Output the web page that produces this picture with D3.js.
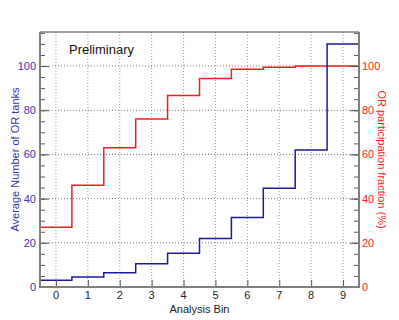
<!DOCTYPE html>
<html>
<head>
<meta charset="utf-8">
<script src="https://cdn.jsdelivr.net/npm/d3@7"></script>
<style>
  body { margin: 0; background: #fff; }
  svg { display: block; font-family: "Liberation Sans", Arial, sans-serif; }
</style>
</head>
<body>
<div id="chart"></div>
<script>
// Analysis bins and per-bin values
const bins = [0, 1, 2, 3, 4, 5, 6, 7, 8, 9];
const avgTanks = [3, 4.5, 6.5, 10.5, 15.3, 22, 31.5, 44.7, 62, 110];
const participation = [27, 46, 63, 76, 86.7, 94.4, 98.5, 99.5, 100, 100];
const yTicks = [0, 20, 40, 60, 80, 100];

const width = 399, height = 320;
const margin = { top: 32, right: 40, bottom: 33, left: 40 };
const innerW = width - margin.left - margin.right;
const innerH = height - margin.top - margin.bottom;

const blue = '#1a1a9e';
const blueText = '#3535b0';
const red = '#ff1a1a';

const svg = d3.select('#chart').append('svg')
  .attr('width', width)
  .attr('height', height);

const g = svg.append('g')
  .attr('transform', `translate(${margin.left},${margin.top})`);

const x = d3.scaleLinear().domain([-0.5, 9.5]).range([0, innerW]);
const y = d3.scaleLinear().domain([0, 115.4]).range([innerH, 0]);
const y2 = d3.scaleLinear().domain([0, 115.4]).range([innerH, 0]);

// Grid lines
g.append('g')
  .selectAll('line')
  .data(bins)
  .join('line')
  .attr('x1', d => x(d)).attr('x2', d => x(d))
  .attr('y1', 0).attr('y2', innerH)
  .attr('stroke', '#9a9a9a')
  .attr('stroke-width', 1)
  .attr('stroke-dasharray', '1,2');

g.append('g')
  .selectAll('line')
  .data(yTicks.slice(1))
  .join('line')
  .attr('x1', 0).attr('x2', innerW)
  .attr('y1', d => y(d)).attr('y2', d => y(d))
  .attr('stroke', '#7a7a7a')
  .attr('stroke-width', 1)
  .attr('stroke-dasharray', '1,2');

// Step lines: each bin spans [i-0.5, i+0.5]
const stepLine = (scale) => d3.line()
  .x(d => x(d[0]))
  .y(d => scale(d[1]))
  .curve(d3.curveStepAfter);

const stepPoints = values => {
  const pts = bins.map((b, i) => [b - 0.5, values[i]]);
  pts.push([bins[bins.length - 1] + 0.5, values[values.length - 1]]);
  return pts;
};

g.append('path')
  .datum(stepPoints(participation))
  .attr('fill', 'none')
  .attr('stroke', red)
  .attr('stroke-width', 1.5)
  .attr('d', stepLine(y2));

g.append('path')
  .datum(stepPoints(avgTanks))
  .attr('fill', 'none')
  .attr('stroke', blue)
  .attr('stroke-width', 1.5)
  .attr('d', stepLine(y));

// Left axis (ticks point inward)
const minorTicks = d3.range(0, 116, 5);
const leftAxis = g.append('g');
leftAxis.call(d3.axisRight(y).tickValues(minorTicks).tickSize(5).tickFormat(''));
leftAxis.call(a => a.select('.domain').remove());
leftAxis.append('g')
  .call(d3.axisRight(y).tickValues(yTicks).tickSize(9).tickFormat(''))
  .call(a => a.select('.domain').remove());
leftAxis.selectAll('line').attr('stroke', '#555');
leftAxis.selectAll('.tickLabel')
  .data(yTicks)
  .join('text')
  .attr('x', -4)
  .attr('y', d => y(d) + 4)
  .attr('text-anchor', 'end')
  .style('font-size', '11px')
  .style('fill', blueText)
  .text(d => d);

// Right axis
const rightAxis = g.append('g').attr('transform', `translate(${innerW},0)`);
rightAxis.call(d3.axisLeft(y2).tickValues(minorTicks).tickSize(5).tickFormat(''));
rightAxis.call(a => a.select('.domain').remove());
rightAxis.append('g')
  .call(d3.axisLeft(y2).tickValues(yTicks).tickSize(9).tickFormat(''))
  .call(a => a.select('.domain').remove());
rightAxis.selectAll('line').attr('stroke', '#555');
rightAxis.selectAll('.tickLabel')
  .data(yTicks)
  .join('text')
  .attr('x', 3)
  .attr('y', d => y2(d) + 4)
  .attr('text-anchor', 'start')
  .style('font-size', '11px')
  .style('fill', red)
  .text(d => d);

// Bottom axis
const xAxis = g.append('g').attr('transform', `translate(0,${innerH})`);
xAxis.call(d3.axisTop(x).tickValues(bins).tickSize(7).tickFormat(''));
xAxis.call(a => a.select('.domain').remove());
xAxis.selectAll('line').attr('stroke', '#555');
xAxis.selectAll('.tickLabel')
  .data(bins)
  .join('text')
  .attr('x', d => x(d))
  .attr('y', 12)
  .attr('text-anchor', 'middle')
  .style('font-size', '11px')
  .style('fill', '#222')
  .text(d => d);

// Frame
g.append('line').attr('x1', 0).attr('x2', innerW).attr('y1', 0).attr('y2', 0)
  .attr('stroke', '#444').attr('stroke-width', 1);
g.append('line').attr('x1', 0).attr('x2', 0).attr('y1', 0).attr('y2', innerH)
  .attr('stroke', '#808080').attr('stroke-width', 2);
g.append('line').attr('x1', innerW).attr('x2', innerW).attr('y1', 0).attr('y2', innerH)
  .attr('stroke', '#808080').attr('stroke-width', 2);
g.append('line').attr('x1', -1).attr('x2', innerW + 1).attr('y1', innerH).attr('y2', innerH)
  .attr('stroke', '#808080').attr('stroke-width', 2);

// Labels
svg.append('text')
  .attr('x', 69)
  .attr('y', 54)
  .style('font-size', '13px')
  .style('fill', '#111')
  .text('Preliminary');

svg.append('text')
  .attr('x', margin.left + innerW / 2)
  .attr('y', 313)
  .attr('text-anchor', 'middle')
  .style('font-size', '11px')
  .style('fill', '#222')
  .text('Analysis Bin');

svg.append('text')
  .attr('transform', `translate(19,${margin.top + innerH / 2}) rotate(-90)`)
  .attr('text-anchor', 'middle')
  .style('font-size', '11px')
  .style('fill', blueText)
  .text('Average Number of OR tanks');

svg.append('text')
  .attr('transform', `translate(378,${margin.top + innerH / 2}) rotate(90)`)
  .attr('text-anchor', 'middle')
  .style('font-size', '11px')
  .style('fill', red)
  .text('OR participation fraction (%)');
</script>
</body>
</html>
